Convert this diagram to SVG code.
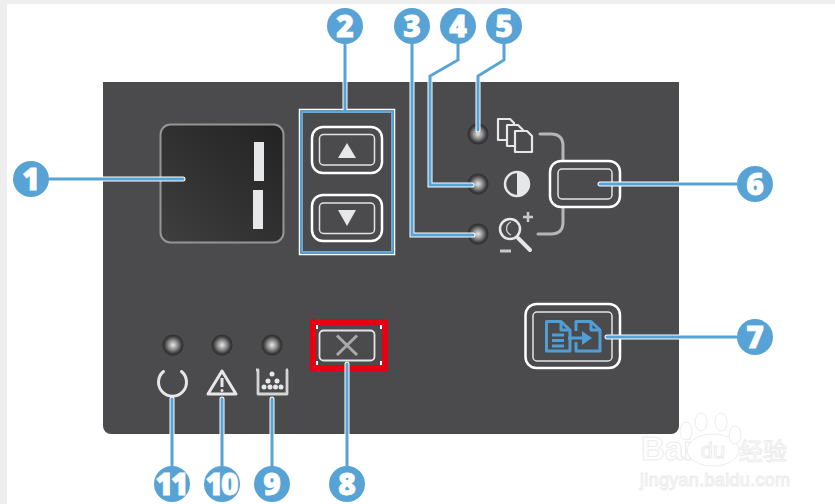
<svg xmlns="http://www.w3.org/2000/svg" width="835" height="504" viewBox="0 0 835 504">
<style>
.num{font-family:"Open Sans","Liberation Sans",sans-serif;font-weight:800;font-size:30px;fill:#fff;stroke:#fff;stroke-width:.8;text-anchor:middle}
.bub{fill:#58a3d6}
.halo{fill:none;stroke:#fff;stroke-width:5;stroke-linejoin:miter;stroke-linecap:round}
.ln{fill:none;stroke:#58a3d6;stroke-width:3;stroke-linejoin:miter;stroke-linecap:round}
.btn{fill:none;stroke:#fff;stroke-width:2.5}
.btn2{fill:none;stroke:#e4e4e4;stroke-width:1.500}
.ico{fill:#4b4b4d;stroke:#e6e7e8;stroke-width:2.200;stroke-linejoin:round}
.gr{fill:none;stroke:#b5b5b5;stroke-width:3;stroke-linecap:round}
.wm{font-family:"Liberation Sans","Noto Sans CJK SC",sans-serif;fill:#fff;stroke:#ececec;stroke-width:1}
.dot{fill:#e6e7e8}
</style>
<defs>
<radialGradient id="led" cx="50%" cy="50%" r="50%">
<stop offset="0" stop-color="#e8e8e8"/><stop offset=".45" stop-color="#8d8d8d"/><stop offset=".8" stop-color="#3f3f40"/><stop offset="1" stop-color="#2c2c2d"/>
</radialGradient>
<linearGradient id="disp" x1="0" y1="1" x2="1" y2="0">
<stop offset="0" stop-color="#403f40"/><stop offset="1" stop-color="#232223"/>
</linearGradient>
</defs>
<rect width="835" height="504" fill="#fff"/>
<rect width="835" height="4" fill="#eeeeee"/>
<rect width="7" height="504" fill="#eeeeee"/>

<g id="panel">
<path d="M103 82H679V426a8 8 0 0 1-8 8H111a8 8 0 0 1-8-8Z" fill="#4b4b4d"/>
</g>

<g id="watermark">
<text class="wm" x="641" y="460" font-size="33" font-weight="700">Bai</text>
<ellipse cx="713" cy="450" rx="26" ry="16" fill="#fff" stroke="#ececec"/>
<ellipse cx="686" cy="431" rx="6" ry="9" fill="#fff" stroke="#ececec"/>
<ellipse cx="701" cy="422" rx="6" ry="9" fill="#fff" stroke="#ececec"/>
<ellipse cx="721" cy="422" rx="6" ry="9" fill="#fff" stroke="#ececec"/>
<ellipse cx="735" cy="435" rx="6" ry="9" fill="#fff" stroke="#ececec"/>
<text class="wm" x="713" y="458" font-size="22" text-anchor="middle">du</text>
<text class="wm" x="739" y="460" font-size="24">经验</text>
<text class="wm" x="640" y="486" font-size="18" textLength="150">jingyan.baidu.com</text>
</g>

<g id="display">
<rect x="160.500" y="124.500" width="123" height="118" rx="10" fill="url(#disp)" stroke="#959595" stroke-width="2"/>
<rect x="254" y="142" width="10" height="39" fill="#e6e7e8"/>
<rect x="253" y="190" width="10" height="39" fill="#e6e7e8"/>
</g>

<g id="btn-up">
<rect x="312" y="127" width="70" height="46" rx="11" class="btn"/>
<rect x="319.500" y="134.500" width="55" height="30.500" rx="4" class="btn2"/>
<path d="M347 143L356 158H338Z" fill="#e6e7e8"/>
</g>
<g id="btn-down">
<rect x="312" y="195" width="70" height="46" rx="11" class="btn"/>
<rect x="319.500" y="203" width="55" height="30.500" rx="4" class="btn2"/>
<path d="M338 210H356L347 226Z" fill="#e6e7e8"/>
</g>

<g id="led-copies"><circle cx="478" cy="134" r="10.500" fill="url(#led)"/></g>
<g id="led-contrast"><circle cx="478" cy="184" r="10.500" fill="url(#led)"/></g>
<g id="led-zoom"><circle cx="478" cy="234" r="10.500" fill="url(#led)"/></g>
<g id="led-ready"><circle cx="173" cy="345" r="10.500" fill="url(#led)"/></g>
<g id="led-attention"><circle cx="222" cy="345" r="10.500" fill="url(#led)"/></g>
<g id="led-toner"><circle cx="272" cy="345" r="10.500" fill="url(#led)"/></g>

<g id="icon-copies">
<path class="ico" d="M498 119H510L514 123V140H498Z"/>
<path class="ico" d="M507 125H518L523 130V146H507Z"/>
<path class="ico" d="M515 131H527L532 136V152H515Z"/>
</g>
<g id="icon-contrast">
<circle cx="517" cy="184" r="12" fill="none" stroke="#e6e7e8" stroke-width="2.500"/>
<path d="M517 172a12 12 0 0 1 0 24Z" fill="#e6e7e8"/>
</g>
<g id="icon-zoom">
<circle cx="510" cy="229" r="10" fill="none" stroke="#e6e7e8" stroke-width="2.500"/>
<path d="M511 222a7 7 0 0 0 0 13" fill="none" stroke="#d8d8d8" stroke-width="1.200"/>
<path d="M518 238L530 250" stroke="#e6e7e8" stroke-width="4" stroke-linecap="round"/>
<path d="M523 217H533M528 212V222" stroke="#c9c9c9" stroke-width="2.500"/>
<path d="M500 251H511" stroke="#c9c9c9" stroke-width="3"/>
</g>

<g id="bracket">
<path class="gr" d="M540 134H551Q563 134 563 146V160"/>
<path class="gr" d="M563 208V222Q563 234 551 234H538"/>
</g>

<g id="btn-mode">
<rect x="550" y="161" width="70" height="46" rx="11" class="btn"/>
<rect x="558" y="169" width="54" height="30" rx="4" class="btn2"/>
</g>

<g id="btn-start">
<rect x="525.500" y="304" width="94.500" height="64" rx="11" class="btn"/>
<rect x="533" y="312" width="79" height="49" rx="4" class="btn2"/>
<g fill="none" stroke="#4f9fd6" stroke-width="3" stroke-linejoin="round">
<path d="M546.500 321.500H561L570 330V351H546.500Z"/>
<path d="M561 321V330H570"/>
<path d="M552 335H564M552 340.500H564M552 346H564"/>
<path d="M576 331V321.500H591L600 330V351H576V342"/>
<path d="M591 321V330H600"/>
<path d="M568 338H584"/>
</g>
<path d="M582 331L592 338L582 345Z" fill="#4f9fd6"/>
</g>

<g id="btn-cancel">
<path d="M321 324H317V329M377 324H381V329M321 366H317V361M377 366H381V361" fill="none" stroke="#fff" stroke-width="2"/>
<rect x="313" y="322" width="72" height="46" fill="none" stroke="#e60012" stroke-width="6"/>
<rect x="319.500" y="330.500" width="55" height="30" rx="4" fill="none" stroke="#e4e4e4" stroke-width="1.800"/>
<path d="M337 335.500L357 355M357 335.500L337 355" stroke="#a9a9a9" stroke-width="3"/>
</g>

<g id="icon-ready">
<path d="M163.500 371.500A14 14 0 1 0 181.500 371.500" fill="none" stroke="#e6e7e8" stroke-width="3" stroke-linecap="round"/>
</g>
<g id="icon-attention">
<path d="M222 371L236 394H208Z" fill="none" stroke="#e6e7e8" stroke-width="3" stroke-linejoin="round"/>
<path d="M222 378V387" stroke="#e6e7e8" stroke-width="3"/>
<circle cx="222" cy="390.500" r="1.500" class="dot"/>
</g>
<g id="icon-toner">
<path d="M256 370H258V394H287V370H288" fill="none" stroke="#d5d5d5" stroke-width="2.800" stroke-linejoin="round"/>
<circle cx="272" cy="374" r="2.500" class="dot"/>
<circle cx="268" cy="381" r="2.500" class="dot"/>
<circle cx="277" cy="381" r="2.500" class="dot"/>
<circle cx="264" cy="387" r="2.500" class="dot"/>
<circle cx="270" cy="387" r="2.500" class="dot"/>
<circle cx="275.500" cy="387" r="2.500" class="dot"/>
<circle cx="281" cy="387" r="2.500" class="dot"/>
</g>

<g id="connectors">
<path class="halo" d="M49 179H183"/><path class="ln" d="M49 179H183"/>
<path class="halo" d="M345 44V110"/>
<rect x="299.500" y="109.500" width="95" height="145" fill="none" stroke="#fff" stroke-width="1.500"/>
<rect x="302" y="112" width="90" height="140" fill="none" stroke="#fff" stroke-width="1.200"/>
<rect x="301.500" y="111.500" width="91" height="141" fill="none" stroke="#58a3d6" stroke-width="2.500"/>
<path class="ln" d="M345 44V111"/>
<path class="halo" d="M412 44V235H473"/><path class="ln" d="M412 44V235H473"/>
<path class="halo" d="M458 44V60L430 76V185H472"/><path class="ln" d="M458 44V60L430 76V185H472"/>
<path class="halo" d="M504 44V60L478 76V130"/><path class="ln" d="M504 44V60L478 76V130"/>
<path class="halo" d="M737 184H600"/><path class="ln" d="M737 184H600"/>
<path class="halo" d="M737 337H607"/><path class="ln" d="M737 337H607"/>
<path class="halo" d="M347 466V364"/><path class="ln" d="M347 466V364"/>
<path class="halo" d="M272 466V399"/><path class="ln" d="M272 466V399"/>
<path class="halo" d="M222 466V399"/><path class="ln" d="M222 466V399"/>
<path class="halo" d="M172 466V399"/><path class="ln" d="M172 466V399"/>
</g>

<g id="callout-1"><circle class="bub" cx="31" cy="179" r="18"/><text class="num" x="31" y="190">1</text></g>
<g id="callout-2"><circle class="bub" cx="345" cy="26" r="18"/><text class="num" x="345" y="37">2</text></g>
<g id="callout-3"><circle class="bub" cx="412" cy="26" r="18"/><text class="num" x="412" y="37">3</text></g>
<g id="callout-4"><circle class="bub" cx="458" cy="26" r="18"/><text class="num" x="458" y="37">4</text></g>
<g id="callout-5"><circle class="bub" cx="504" cy="26" r="18"/><text class="num" x="504" y="37">5</text></g>
<g id="callout-6"><circle class="bub" cx="755" cy="184" r="18"/><text class="num" x="755" y="195">6</text></g>
<g id="callout-7"><circle class="bub" cx="755" cy="337" r="18"/><text class="num" x="755" y="348">7</text></g>
<g id="callout-8"><circle class="bub" cx="347" cy="484" r="18"/><text class="num" x="347" y="495">8</text></g>
<g id="callout-9"><circle class="bub" cx="272" cy="484" r="18"/><text class="num" x="272" y="495">9</text></g>
<g id="callout-10"><circle class="bub" cx="222" cy="484" r="18"/><text class="num" x="221" y="495" letter-spacing="-2">10</text></g>
<g id="callout-11"><circle class="bub" cx="172" cy="484" r="18"/><text class="num" x="171" y="495" letter-spacing="-2">11</text></g>
</svg>
